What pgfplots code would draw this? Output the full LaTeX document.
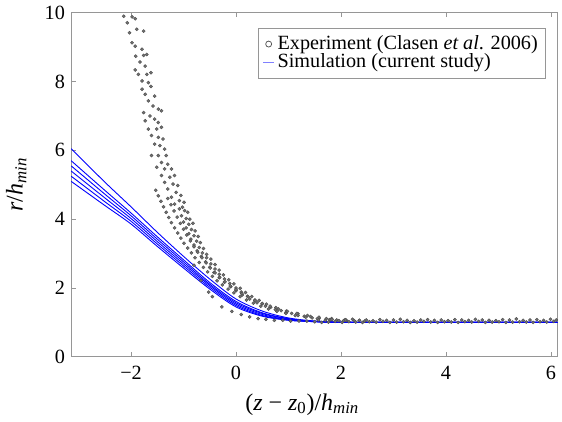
\documentclass[border=0pt]{standalone}
\usepackage{fontspec}
\setmainfont{LiberationSerif-Regular.ttf}[
  BoldFont=LiberationSerif-Bold.ttf,
  ItalicFont=LiberationSerif-Italic.ttf,
  BoldItalicFont=LiberationSerif-BoldItalic.ttf]
\usepackage{pgfplots}
\pgfplotsset{compat=1.18}
\definecolor{axgray}{RGB}{150,150,150}
\definecolor{expgray}{RGB}{80,80,80}
\begin{document}
\fontsize{12}{14}\selectfont
\begin{tikzpicture}
\begin{axis}[
    scale only axis,
    width=325pt, height=230pt,
    xmin=-3.14, xmax=6.12,
    ymin=0, ymax=10,
    xtick={-2,0,2,4,6},
    xticklabels={−2,0,2,4,6},
    ytick={0,2,4,6,8,10},
    yticklabels={0,2,4,6,8,10},
    tick align=inside,
    major tick length=3pt,
    axis line style={axgray, line width=0.6pt},
    every tick/.style={axgray, line width=0.6pt},
    xtick pos=both, ytick pos=left,
    tick label style={font=\fontsize{13.5}{15}\selectfont},
    xticklabel style={yshift=-2pt},
    label style={font=\fontsize{16}{18}\selectfont},
    xlabel={(\textit{z} − \textit{z}\textsubscript{0})/\textit{h}\textsubscript{\textit{min}}},
    ylabel={\textit{r}/\textit{h}\textsubscript{\textit{min}}},
    xlabel style={yshift=-1pt, xshift=-8pt},
    ylabel style={yshift=4pt},
    legend cell align={left},
    legend style={at={(rel axis cs:0.976,0.956)}, anchor=north east,
        draw=axgray, font=\fontsize{13.5}{14}\selectfont,
        row sep=-3pt, inner sep=3pt},
]
% experiment (Clasen et al. 2006)
\addplot[only marks, mark=*, mark size=1.05pt, mark options={draw=expgray, fill=black!55, line width=0.3pt}, forget plot] coordinates {
(-2.14,9.90) (-1.98,9.88) (-1.92,9.83) (-2.07,9.71) (-1.89,9.52) (-1.76,9.47) (-2.03,9.42)
(-1.98,9.13) (-1.92,9.03) (-1.79,8.94) (-1.91,8.74) (-1.76,8.76) (-1.70,8.79) (-1.83,8.57)
(-1.73,8.45) (-1.92,8.34) (-1.86,8.21) (-1.70,8.21) (-1.62,8.26) (-1.79,8.02) (-1.67,7.97)
(-1.62,7.86) (-1.79,7.78) (-1.73,7.63) (-1.55,7.58) (-1.67,7.44) (-1.58,7.29) (-1.48,7.20)
(-1.42,7.15) (-1.76,7.10) (-1.64,7.00) (-1.55,6.91) (-1.48,6.81) (-1.73,6.86) (-1.67,6.62)
(-1.51,6.62) (-1.42,6.67) (-1.61,6.43) (-1.48,6.38) (-1.39,6.33) (-1.55,6.18) (-1.45,6.14)
(-1.36,6.04) (-1.61,5.85) (-1.48,5.85) (-1.33,5.85) (-1.42,5.65) (-1.30,5.60) (-1.51,5.51)
(-1.36,5.46) (-1.23,5.46) (-1.42,5.27) (-1.26,5.22) (-1.17,5.27) (-1.36,5.07) (-1.20,5.02)
(-1.11,4.98) (-1.30,4.88) (-1.14,4.78) (-1.05,4.69) (-1.23,4.64) (-1.08,4.54) (-0.99,4.49)
(-1.17,4.44) (-1.02,4.35)
(-1.08,4.30) (-0.98,4.25) (-0.92,4.20) (-1.04,4.10) (-0.95,4.02) (-0.88,4.00) (-1.00,3.92)
(-0.90,3.85) (-0.82,3.88) (-0.95,3.75) (-0.85,3.70) (-0.78,3.66) (-0.90,3.58) (-0.80,3.52)
(-0.72,3.50) (-0.86,3.42) (-0.75,3.36) (-0.68,3.32) (-0.80,3.25) (-0.70,3.18) (-0.62,3.15)
(-0.74,3.08) (-0.64,3.02) (-0.56,2.98)
(-0.66,2.92) (-0.56,2.88) (-0.48,2.84) (-0.58,2.76) (-0.48,2.70) (-0.40,2.68) (-0.50,2.60)
(-0.40,2.55) (-0.32,2.52) (-0.42,2.45) (-0.32,2.40) (-0.24,2.38) (-0.32,2.30) (-0.22,2.26)
(-0.14,2.24) (-0.22,2.17) (-0.12,2.13) (-0.04,2.12) (-0.10,2.04) (0.00,2.00) (0.08,1.99)
(0.00,1.92) (0.10,1.88) (0.18,1.87) (0.12,1.80) (0.22,1.76) (0.30,1.75) (0.26,1.68)
(0.36,1.65) (0.44,1.64) (0.40,1.57) (0.50,1.54) (0.58,1.53) (0.56,1.47) (0.66,1.44)
(0.76,1.43) (0.75,1.37) (0.86,1.34) (0.96,1.33) (0.95,1.28) (1.06,1.26) (1.18,1.25)
(1.18,1.20) (1.30,1.18) (1.42,1.17) (1.45,1.13) (1.58,1.12) (1.72,1.11) (1.78,1.08)
(1.92,1.07) (2.10,1.06) (2.25,1.05) (2.45,1.04)
(-1.30,4.60) (-1.24,4.42) (-1.18,4.24) (-1.12,4.06) (-1.06,3.88) (-1.00,3.71) (-0.94,3.54)
(-0.87,3.37) (-0.80,3.20) (-0.73,3.04) (-0.65,2.88) (-0.57,2.73) (-0.49,2.58) (-0.40,2.44)
(-0.31,2.31) (-0.21,2.18) (-0.11,2.06) (0.00,1.95) (0.11,1.84) (0.23,1.74) (0.36,1.64)
(0.50,1.55) (0.65,1.47) (0.81,1.39) (0.98,1.32) (1.16,1.26) (1.36,1.20) (1.58,1.15)
(1.82,1.11) (2.08,1.08) (2.35,1.06)
(-1.53,4.84) (-1.48,4.68) (-1.43,4.52) (-1.38,4.36) (-1.33,4.20) (-1.28,4.05) (-1.23,3.90)
(-1.17,3.75) (-1.11,3.60) (-1.05,3.45) (-0.99,3.30) (-0.92,3.16) (-0.85,3.02) (-0.78,2.88)
(-0.70,2.74) (-0.62,2.60) (-0.54,2.47) (-0.45,2.34) (-0.36,2.21) (-0.26,2.09) (-0.15,1.97)
(-0.04,1.86) (0.08,1.75) (0.20,1.65) (0.33,1.56) (0.47,1.47) (0.62,1.39) (0.78,1.32)
(0.95,1.26) (1.13,1.20) (1.33,1.15) (1.55,1.11) (1.80,1.08) (2.05,1.05)
(-0.80,2.66) (-0.67,2.22) (-0.52,1.88) (-0.45,1.75) (-0.27,1.45) (-0.08,1.32) (0.10,1.23)
(0.26,1.16) (0.42,1.11) (0.57,1.09) (0.73,1.06) (0.89,1.06) (1.04,1.04) (1.20,1.04) (1.35,1.04)
(1.50,1.02) (1.63,1.00) (1.76,1.01) (1.89,1.03) (2.02,1.00) (2.15,1.02) (2.28,1.01) (2.41,1.00)
(2.54,1.02) (2.67,1.01) (2.80,1.03) (2.93,1.00) (3.06,1.01) (3.19,1.02) (3.32,1.00) (3.45,1.01)
(3.58,1.03) (3.71,1.01) (3.84,1.00) (3.97,1.02) (4.10,1.01) (4.23,1.00) (4.36,1.02) (4.49,1.01)
(4.62,1.03) (4.75,1.00) (4.88,1.01) (5.01,1.02) (5.14,1.00) (5.27,1.01) (5.40,1.02) (5.53,1.01)
(5.66,1.00) (5.79,1.02) (5.92,1.01) (6.05,1.03)
(1.57,1.07) (1.70,1.06) (1.83,1.08) (1.96,1.05) (2.09,1.07) (2.22,1.09) (2.35,1.06) (2.48,1.07)
(2.61,1.05) (2.74,1.08) (2.87,1.06) (3.00,1.07) (3.13,1.09) (3.26,1.06) (3.39,1.05) (3.52,1.07)
(3.65,1.08) (3.78,1.06) (3.91,1.07) (4.04,1.05) (4.17,1.08) (4.30,1.07) (4.43,1.06) (4.56,1.09)
(4.69,1.07) (4.82,1.06) (4.95,1.05) (5.08,1.08) (5.21,1.07) (5.34,1.10) (5.47,1.06) (5.60,1.07)
(5.73,1.08) (5.86,1.06) (5.99,1.09) (6.10,1.07)
};
% simulation (current study)
\addplot[blue, line width=0.6pt, smooth, forget plot] coordinates {
(-3.14,6.05) (-2.5,5.08) (-2.0,4.36) (-1.5,3.62) (-1.0,2.92) (-0.5,2.26) (0.0,1.68)
(0.5,1.33) (1.0,1.13) (1.5,1.04) (2.0,1.01) (3.0,1.00) (6.12,1.00)};
\addplot[blue, line width=0.6pt, smooth, forget plot] coordinates {
(-3.14,5.70) (-2.5,4.84) (-2.0,4.18) (-1.5,3.49) (-1.0,2.82) (-0.5,2.16) (0.0,1.61)
(0.5,1.28) (1.0,1.11) (1.5,1.03) (2.0,1.01) (3.0,1.00) (6.12,1.00)};
\addplot[blue, line width=0.6pt, smooth, forget plot] coordinates {
(-3.14,5.55) (-2.5,4.73) (-2.0,4.10) (-1.5,3.42) (-1.0,2.76) (-0.5,2.11) (0.0,1.57)
(0.5,1.26) (1.0,1.10) (1.5,1.03) (2.0,1.00) (3.0,1.00) (6.12,1.00)};
\addplot[blue, line width=0.6pt, smooth, forget plot] coordinates {
(-3.14,5.40) (-2.5,4.62) (-2.0,4.02) (-1.5,3.35) (-1.0,2.70) (-0.5,2.07) (0.0,1.53)
(0.5,1.23) (1.0,1.08) (1.5,1.03) (2.0,1.00) (3.0,1.00) (6.12,1.00)};
\addplot[blue, line width=0.6pt, smooth, forget plot] coordinates {
(-3.14,5.25) (-2.5,4.51) (-2.0,3.94) (-1.5,3.28) (-1.0,2.64) (-0.5,2.02) (0.0,1.49)
(0.5,1.20) (1.0,1.07) (1.5,1.02) (2.0,1.00) (3.0,1.00) (6.12,1.00)};
\addplot[blue, line width=0.6pt, smooth, forget plot] coordinates {
(-3.14,5.10) (-2.5,4.40) (-2.0,3.86) (-1.5,3.21) (-1.0,2.58) (-0.5,1.97) (0.0,1.45)
(0.5,1.18) (1.0,1.06) (1.5,1.02) (2.0,1.00) (3.0,1.00) (6.12,1.00)};
\addlegendimage{legend image code/.code={\draw[expgray, line width=0.5pt] (0.25cm,0cm) circle (2pt);}}
\addlegendentry{Experiment (Clasen \textit{et al}. 2006)}
\addlegendimage{legend image code/.code={\draw[blue!50, line width=0.6pt] (0.12cm,0cm) -- (0.38cm,0cm);}}
\addlegendentry{Simulation (current study)}
\end{axis}
\end{tikzpicture}
\end{document}
